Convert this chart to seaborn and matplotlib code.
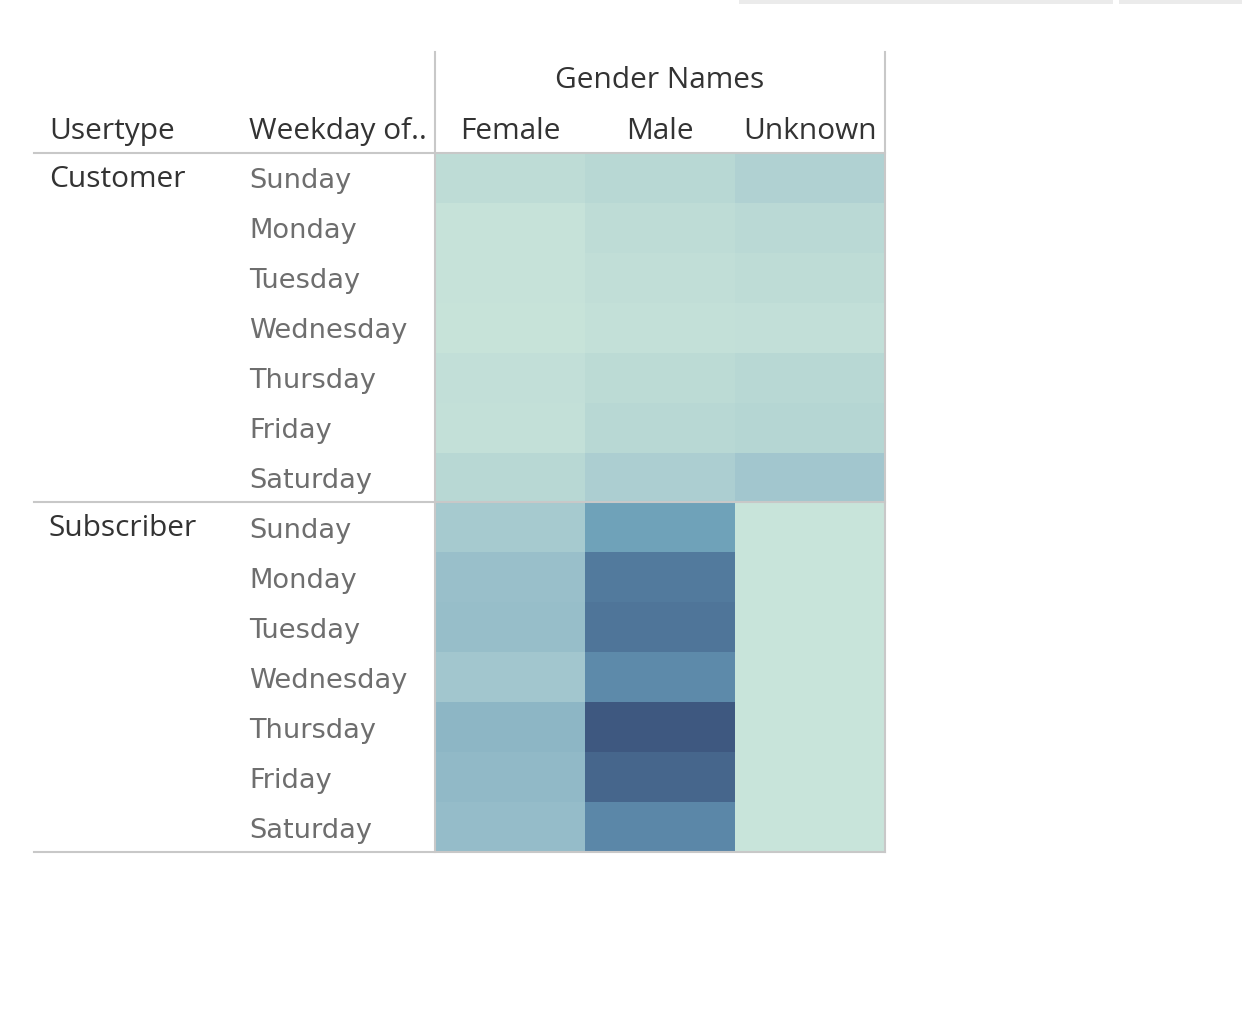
import numpy as np
import pandas as pd
import matplotlib
matplotlib.use("Agg")
import matplotlib.pyplot as plt
from matplotlib.colors import LinearSegmentedColormap
from matplotlib.patches import Rectangle
import seaborn as sns

# ---- data ----
usertypes = ["Customer", "Subscriber"]
weekdays = ["Sunday", "Monday", "Tuesday", "Wednesday", "Thursday", "Friday", "Saturday"]
genders = ["Female", "Male", "Unknown"]

customer_female = [4200, 1200, 1100, 800, 2400, 2300, 6000]
customer_male = [6000, 4100, 3000, 2300, 4800, 6200, 10800]
customer_unknown = [9600, 5400, 4200, 2400, 6000, 7200, 15000]
subscriber_female = [13200, 19200, 19800, 15000, 24000, 22200, 20400]
subscriber_male = [33000, 48000, 49800, 42000, 60000, 55200, 43200]
subscriber_unknown = [300, 300, 300, 300, 300, 300, 300]

# ---- table ----
rows = []
for ut, cols in [("Customer", (customer_female, customer_male, customer_unknown)),
                 ("Subscriber", (subscriber_female, subscriber_male, subscriber_unknown))]:
    for i, wd in enumerate(weekdays):
        for g, vals in zip(genders, cols):
            rows.append({"Usertype": ut, "Weekday": wd, "Gender": g, "Trips": vals[i]})
df = pd.DataFrame(rows)
pivot = df.pivot_table(index=["Usertype", "Weekday"], columns="Gender", values="Trips")
order = [(u, w) for u in usertypes for w in weekdays]
pivot = pivot.reindex(order)[genders]

cmap = LinearSegmentedColormap.from_list("blueteal", [
    (0.00, "#c9e4da"), (0.10, "#b8d8d4"), (0.25, "#a2c6ce"), (0.40, "#8db6c5"),
    (0.55, "#6fa2b9"), (0.72, "#5b87a8"), (0.83, "#4f7599"), (0.92, "#46668c"),
    (1.00, "#3e5880")])

W, H = 1242, 1013
fig = plt.figure(figsize=(W / 100, H / 100), dpi=100)
fig.patch.set_facecolor("white")

x0, x1, y0, y1 = 435, 885, 153, 852
ax = fig.add_axes([x0 / W, 1 - y1 / H, (x1 - x0) / W, (y1 - y0) / H])
sns.heatmap(pivot.values, ax=ax, cmap=cmap, vmin=0, vmax=60000, cbar=False,
            linewidths=0, xticklabels=False, yticklabels=False)
ax.set_xlabel("")
ax.set_ylabel("")
for s in ax.spines.values():
    s.set_visible(False)

hfont = "Open Sans"
wfont = "DejaVu Sans"
dark = "#333333"
grey = "#6e6e6e"
hfs = 21.5
wfs = 19.6
line_c = "#c8c8c8"

def fx(px):
    return px / W

def fy(py):
    return 1 - py / H

def hline(y, xa, xb, c=line_c, lw=1.5):
    fig.add_artist(plt.Line2D([fx(xa), fx(xb)], [fy(y), fy(y)], color=c, lw=lw, transform=fig.transFigure))

def vline(x, ya, yb, c=line_c, lw=1.5):
    fig.add_artist(plt.Line2D([fx(x), fx(x)], [fy(ya), fy(yb)], color=c, lw=lw, transform=fig.transFigure))

hline(153, 34, 885)
hline(502.5, 34, 885)
hline(852, 34, 885)
vline(435, 52, 852)
vline(885, 52, 852)

# top grey bars
fig.add_artist(Rectangle((fx(739), fy(4)), fx(1113 - 739), 4 / H, color="#ebebeb",
                         transform=fig.transFigure, lw=0))
fig.add_artist(Rectangle((fx(1119), fy(4)), fx(1242 - 1119), 4 / H, color="#ebebeb",
                         transform=fig.transFigure, lw=0))

# headers
fig.text(fx(660), fy(80), "Gender Names", ha="center", va="center", fontsize=hfs, color=dark, family=hfont)
fig.text(fx(49), fy(131), "Usertype", ha="left", va="center", fontsize=hfs, color=dark, family=hfont)
fig.text(fx(249), fy(131), "Weekday of..", ha="left", va="center", fontsize=hfs, color=dark, family=hfont)
for j, g in enumerate(genders):
    fig.text(fx(510 + 150 * j), fy(131), g, ha="center", va="center", fontsize=hfs, color=dark, family=hfont)

# row labels
for k, ut in enumerate(usertypes):
    fig.text(fx(49), fy(179 + 350 * k), ut, ha="left", va="center", fontsize=hfs, color=dark, family=hfont)
    for i, wd in enumerate(weekdays):
        fig.text(fx(249), fy(181 + 350 * k + 50 * i), wd, ha="left", va="center",
                 fontsize=wfs, color=grey, family=wfont)

fig.savefig("out.png", dpi=100, facecolor="white")
